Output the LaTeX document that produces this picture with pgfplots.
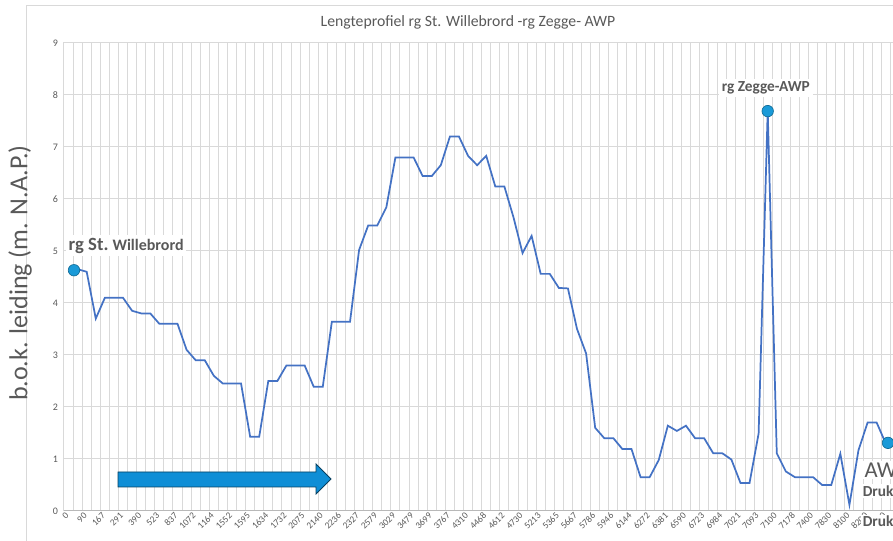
\documentclass[border=0pt]{standalone}
\usepackage{pgfplots}
\pgfplotsset{compat=1.18}
\usepackage{fontspec}
\setmainfont{Carlito}
\definecolor{linec}{HTML}{4472C4}
\definecolor{gridc}{HTML}{D9D9D9}
\definecolor{txt}{HTML}{595959}
\definecolor{dotc}{HTML}{1A9AD8}
\definecolor{arrc}{HTML}{0F8ED6}
\begin{document}
\begin{tikzpicture}[x=0.75pt,y=0.75pt]
\begin{axis}[
  scale only axis,
  width=681pt, height=351pt,
  xmin=-0.5, xmax=99.5, ymin=0, ymax=9,
  clip=false,
  axis line style={draw=gridc, line width=0.75pt},
  xtick={0,2,...,90},
  xticklabels={0,90,167,291,390,523,837,1072,1164,1552,1595,1634,1732,2075,2140,2236,2327,2579,3029,3479,3699,3767,4310,4468,4612,4730,5213,5365,5667,5786,5946,6144,6272,6381,6590,6723,6984,7021,7093,7100,7178,7400,7830,8100,8200,8550},
  minor xtick={-0.5,0.5,...,99.5},
  ytick={0,1,...,9},
  xminorgrids=true, ymajorgrids=true, xmajorgrids=false,
  grid style={draw=gridc, line width=0.75pt},
  minor grid style={draw=gridc, line width=0.75pt},
  major tick length=0pt, minor tick length=0pt,
  /pgf/number format/assume math mode=true,
  xticklabel style={rotate=45, anchor=east, text=txt, font=\fontsize{7}{8}\selectfont, xshift=1pt, yshift=-1pt},
  yticklabel style={text=txt, font=\fontsize{7.5}{8}\selectfont, xshift=-1pt},
]
\coordinate (O) at (axis cs:-0.5,0);
\draw[black!28, line width=0.75pt] (axis cs:-0.5,0) -- (axis cs:99.5,0);
\addplot[linec, line width=1.3pt, mark=none] coordinates {
(0,4.65) (1,4.65) (2,4.6) (3,3.7) (4,4.1) (5,4.1) (6,4.1) (7,3.85) (8,3.8) (9,3.8)
(10,3.6) (11,3.6) (12,3.6) (13,3.1) (14,2.9) (15,2.9) (16,2.6) (17,2.45) (18,2.45) (19,2.45)
(20,1.43) (21,1.43) (22,2.5) (23,2.5) (24,2.8) (25,2.8) (26,2.8) (27,2.39) (28,2.39) (29,3.64)
(30,3.64) (31,3.64) (32,5.02) (33,5.49) (34,5.49) (35,5.84) (36,6.8) (37,6.8) (38,6.8) (39,6.44)
(40,6.44) (41,6.65) (42,7.2) (43,7.2) (44,6.83) (45,6.65) (46,6.83) (47,6.24) (48,6.24) (49,5.65)
(50,4.96) (51,5.29) (52,4.56) (53,4.56) (54,4.29) (55,4.28) (56,3.5) (57,3.03) (58,1.6) (59,1.4)
(60,1.4) (61,1.19) (62,1.19) (63,0.65) (64,0.65) (65,0.98) (66,1.64) (67,1.54) (68,1.64) (69,1.4)
(70,1.4) (71,1.11) (72,1.11) (73,0.99) (74,0.54) (75,0.54) (76,1.49) (77,7.7) (78,1.11) (79,0.76)
(80,0.65) (81,0.65) (82,0.65) (83,0.5) (84,0.5) (85,1.1) (86,0.12) (87,1.17) (88,1.7) (89,1.7)
(90,1.3)
};
\node[anchor=west, fill=white, inner sep=2pt, text=txt, font=\bfseries] at (axis cs:-0.3,5.1)
  {{\fontsize{14}{15}\selectfont rg St.} {\fontsize{12}{13}\selectfont Willebrord}};
\node[fill=white, inner sep=2pt, text=txt, font=\bfseries\fontsize{11.5}{12}\selectfont] at (axis cs:76.8,8.13) {rg Zegge-AWP};
\node[anchor=west, fill=white, inner sep=1pt, text=txt, font=\fontsize{17}{18}\selectfont] at (axis cs:87.5,0.79) {AWP};
\node[anchor=west, fill=white, inner sep=1pt, text=txt, font=\bfseries\fontsize{11.5}{12}\selectfont] at (axis cs:87.3,0.38) {Druk};
\node[anchor=west, fill=white, inner sep=1pt, text=txt, font=\bfseries\fontsize{11.5}{12}\selectfont] at (axis cs:87.3,-0.2) {Druk};
\addplot[only marks, mark=*, mark size=4.3pt, mark options={fill=dotc, draw=dotc!70!black, line width=0.5pt}] coordinates {(0.6,4.63) (77,7.69) (90.25,1.31)};
\end{axis}
\begin{scope}[shift={(O)}, xshift=-48pt, yshift=-22.5pt]
\draw[gridc, line width=0.75pt] (27,0) -- (27,535) -- (893,535);
\node[txt, font=\fontsize{11.8}{13}\selectfont] at (468,519) {Lengteprofiel rg St. Willebrord -rg Zegge- AWP};
\node[txt, rotate=90, font=\fontsize{19.5}{22}\selectfont] at (20,268) {b.o.k. leiding (m. N.A.P.)};
\draw[fill=arrc, draw=black!55!arrc, line width=0.6pt]
  (118,69) -- (316,69) -- (316,77) -- (331,62) -- (316,47) -- (316,54) -- (118,54) -- cycle;
\coordinate (BL) at (0,0);
\coordinate (TR) at (893,541);
\end{scope}
\pgfresetboundingbox
\path[use as bounding box] (BL) rectangle (TR);
\end{tikzpicture}
\end{document}
